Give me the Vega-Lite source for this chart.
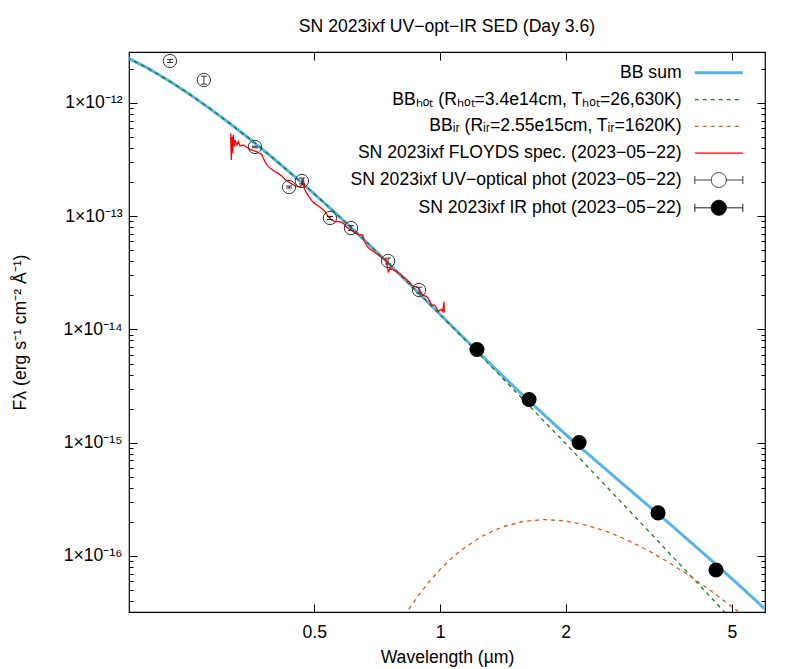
{
  "$schema": "https://vega.github.io/schema/vega-lite/v6.json",
  "width": 636,
  "height": 560,
  "autosize": {"type": "none"},
  "padding": {"left": 129, "top": 52, "right": 32, "bottom": 57},
  "background": "white",
  "title": {"text": "SN 2023ixf UV−opt−IR SED (Day 3.6)", "font": "Liberation Sans", "fontSize": 17.6, "fontWeight": "normal", "color": "#000", "anchor": "middle", "frame": "group", "offset": 2, "baseline": "alphabetic"},
  "config": {
    "view": {"stroke": "#000", "strokeWidth": 1.2},
    "font": "Liberation Sans",
    "axis": {"labelFont": "Liberation Sans", "labelFontSize": 17.6, "labelColor": "#000", "titleFont": "Liberation Sans", "titleFontSize": 17.6, "titleFontWeight": "normal", "titleColor": "#000", "tickColor": "#000", "tickWidth": 1, "grid": false, "domain": false, "labelFlush": false, "labelOverlap": false, "labelBound": false}
  },
  "datasets": {
    "sum": [
      {"wl": 0.17783, "f": 2.531e-12}, {"wl": 0.19953, "f": 2.030e-12}, {"wl": 0.22387, "f": 1.578e-12}, {"wl": 0.25119, "f": 1.197e-12},
      {"wl": 0.28184, "f": 8.873e-13}, {"wl": 0.31623, "f": 6.461e-13}, {"wl": 0.35481, "f": 4.636e-13}, {"wl": 0.39811, "f": 3.269e-13},
      {"wl": 0.44668, "f": 2.276e-13}, {"wl": 0.50119, "f": 1.563e-13}, {"wl": 0.56234, "f": 1.063e-13}, {"wl": 0.63096, "f": 7.157e-14},
      {"wl": 0.70795, "f": 4.774e-14}, {"wl": 0.79433, "f": 3.156e-14}, {"wl": 0.89125, "f": 2.078e-14}, {"wl": 1.0, "f": 1.364e-14},
      {"wl": 1.12202, "f": 8.947e-15}, {"wl": 1.25893, "f": 5.885e-15}, {"wl": 1.41254, "f": 3.890e-15}, {"wl": 1.58489, "f": 2.594e-15},
      {"wl": 1.77828, "f": 1.749e-15}, {"wl": 1.99526, "f": 1.192e-15}, {"wl": 2.23872, "f": 8.207e-16}, {"wl": 2.51189, "f": 5.689e-16},
      {"wl": 2.81838, "f": 3.960e-16}, {"wl": 3.16228, "f": 2.759e-16}, {"wl": 3.54813, "f": 1.916e-16}, {"wl": 3.98107, "f": 1.327e-16},
      {"wl": 4.46684, "f": 9.125e-17}, {"wl": 5.01187, "f": 6.237e-17}, {"wl": 5.62341, "f": 4.236e-17}, {"wl": 6.30957, "f": 2.858e-17}
    ],
    "hot": [
      {"wl": 0.17783, "f": 2.531e-12}, {"wl": 0.19953, "f": 2.030e-12}, {"wl": 0.22387, "f": 1.578e-12}, {"wl": 0.25119, "f": 1.197e-12},
      {"wl": 0.28184, "f": 8.873e-13}, {"wl": 0.31623, "f": 6.461e-13}, {"wl": 0.35481, "f": 4.636e-13}, {"wl": 0.39811, "f": 3.269e-13},
      {"wl": 0.44668, "f": 2.276e-13}, {"wl": 0.50119, "f": 1.563e-13}, {"wl": 0.56234, "f": 1.063e-13}, {"wl": 0.63096, "f": 7.157e-14},
      {"wl": 0.70795, "f": 4.772e-14}, {"wl": 0.79433, "f": 3.154e-14}, {"wl": 0.89125, "f": 2.074e-14}, {"wl": 1.0, "f": 1.356e-14},
      {"wl": 1.12202, "f": 8.835e-15}, {"wl": 1.25893, "f": 5.733e-15}, {"wl": 1.41254, "f": 3.709e-15}, {"wl": 1.58489, "f": 2.392e-15},
      {"wl": 1.77828, "f": 1.539e-15}, {"wl": 1.99526, "f": 9.880e-16}, {"wl": 2.23872, "f": 6.331e-16}, {"wl": 2.51189, "f": 4.049e-16},
      {"wl": 2.81838, "f": 2.586e-16}, {"wl": 3.16228, "f": 1.649e-16}, {"wl": 3.54813, "f": 1.051e-16}, {"wl": 3.98107, "f": 6.684e-17},
      {"wl": 4.46684, "f": 4.250e-17}, {"wl": 5.01187, "f": 2.700e-17}, {"wl": 5.62341, "f": 1.713e-17}
    ],
    "ir": [
      {"wl": 0.70795, "f": 1.095e-17}, {"wl": 0.79433, "f": 2.408e-17}, {"wl": 0.8414, "f": 3.376e-17}, {"wl": 0.89125, "f": 4.568e-17},
      {"wl": 0.94406, "f": 5.983e-17}, {"wl": 1.0, "f": 7.596e-17}, {"wl": 1.05925, "f": 9.361e-17}, {"wl": 1.12202, "f": 1.122e-16},
      {"wl": 1.25893, "f": 1.493e-16}, {"wl": 1.41254, "f": 1.810e-16}, {"wl": 1.58489, "f": 2.020e-16}, {"wl": 1.77828, "f": 2.097e-16},
      {"wl": 1.99526, "f": 2.039e-16}, {"wl": 2.23872, "f": 1.875e-16}, {"wl": 2.51189, "f": 1.640e-16}, {"wl": 2.81838, "f": 1.374e-16},
      {"wl": 3.16228, "f": 1.109e-16}, {"wl": 3.54813, "f": 8.662e-17}, {"wl": 3.98107, "f": 6.578e-17}, {"wl": 4.46684, "f": 4.877e-17},
      {"wl": 5.01187, "f": 3.539e-17}, {"wl": 5.62341, "f": 2.522e-17}, {"wl": 6.30957, "f": 1.771e-17}
    ],
    "spec": [
      {"wl": 0.3153, "f": 5.40e-13}, {"wl": 0.3164, "f": 3.14e-13}, {"wl": 0.3176, "f": 5.04e-13}, {"wl": 0.3188, "f": 3.60e-13},
      {"wl": 0.3199, "f": 5.22e-13}, {"wl": 0.3211, "f": 4.11e-13}, {"wl": 0.3229, "f": 4.71e-13}, {"wl": 0.3260, "f": 4.26e-13},
      {"wl": 0.3289, "f": 4.55e-13}, {"wl": 0.3320, "f": 4.17e-13}, {"wl": 0.3381, "f": 4.26e-13}, {"wl": 0.3445, "f": 4.06e-13},
      {"wl": 0.3508, "f": 3.90e-13}, {"wl": 0.3572, "f": 3.79e-13}, {"wl": 0.3640, "f": 3.72e-13}, {"wl": 0.3692, "f": 3.60e-13},
      {"wl": 0.3741, "f": 3.52e-13}, {"wl": 0.3774, "f": 3.25e-13}, {"wl": 0.3831, "f": 2.93e-13}, {"wl": 0.3880, "f": 2.74e-13},
      {"wl": 0.3953, "f": 2.60e-13}, {"wl": 0.4026, "f": 2.47e-13}, {"wl": 0.4100, "f": 2.39e-13}, {"wl": 0.4178, "f": 2.27e-13},
      {"wl": 0.4254, "f": 2.12e-13}, {"wl": 0.4332, "f": 2.02e-13}, {"wl": 0.4414, "f": 1.93e-13}, {"wl": 0.4495, "f": 1.86e-13},
      {"wl": 0.4578, "f": 1.82e-13}, {"wl": 0.4665, "f": 1.86e-13}, {"wl": 0.4706, "f": 2.16e-13}, {"wl": 0.4732, "f": 1.76e-13},
      {"wl": 0.4795, "f": 1.59e-13}, {"wl": 0.4864, "f": 1.47e-13}, {"wl": 0.4956, "f": 1.34e-13}, {"wl": 0.5066, "f": 1.26e-13},
      {"wl": 0.5180, "f": 1.19e-13}, {"wl": 0.5304, "f": 1.10e-13}, {"wl": 0.5401, "f": 9.91e-14}, {"wl": 0.5503, "f": 9.27e-14},
      {"wl": 0.5604, "f": 8.95e-14}, {"wl": 0.5761, "f": 8.95e-14}, {"wl": 0.5867, "f": 8.66e-14}, {"wl": 0.5978, "f": 7.99e-14},
      {"wl": 0.6111, "f": 7.56e-14}, {"wl": 0.6258, "f": 7.16e-14}, {"wl": 0.6408, "f": 6.83e-14}, {"wl": 0.6529, "f": 6.83e-14},
      {"wl": 0.6576, "f": 6.17e-14}, {"wl": 0.6675, "f": 5.46e-14}, {"wl": 0.6797, "f": 5.11e-14}, {"wl": 0.6949, "f": 4.86e-14},
      {"wl": 0.7116, "f": 4.55e-14}, {"wl": 0.7291, "f": 4.25e-14}, {"wl": 0.7425, "f": 4.11e-14}, {"wl": 0.7520, "f": 3.22e-14},
      {"wl": 0.7591, "f": 3.47e-14}, {"wl": 0.7802, "f": 3.31e-14}, {"wl": 0.8022, "f": 3.09e-14}, {"wl": 0.8245, "f": 2.83e-14},
      {"wl": 0.8477, "f": 2.59e-14}, {"wl": 0.858, "f": 2.42e-14}, {"wl": 0.8711, "f": 2.39e-14}, {"wl": 0.884, "f": 2.36e-14},
      {"wl": 0.8957, "f": 2.20e-14}, {"wl": 0.908, "f": 2.02e-14}, {"wl": 0.9206, "f": 1.98e-14}, {"wl": 0.934, "f": 1.92e-14},
      {"wl": 0.9464, "f": 1.76e-14}, {"wl": 0.955, "f": 1.64e-14}, {"wl": 0.9637, "f": 1.65e-14}, {"wl": 0.973, "f": 1.63e-14},
      {"wl": 0.9820, "f": 1.54e-14}, {"wl": 0.991, "f": 1.44e-14}, {"wl": 1.0, "f": 1.49e-14}, {"wl": 1.008, "f": 1.50e-14},
      {"wl": 1.015, "f": 1.44e-14}, {"wl": 1.0223, "f": 1.76e-14}, {"wl": 1.024, "f": 1.41e-14}
    ],
    "uv": [
      {"wl": 0.2256, "f": 2.35e-12, "lo": 2.28e-12, "hi": 2.42e-12},
      {"wl": 0.272, "f": 1.596e-12, "lo": 1.468e-12, "hi": 1.724e-12},
      {"wl": 0.3605, "f": 4.09e-13, "lo": 4.03e-13, "hi": 4.15e-13},
      {"wl": 0.435, "f": 1.81e-13, "lo": 1.774e-13, "hi": 1.846e-13},
      {"wl": 0.467, "f": 2.05e-13, "lo": 1.927e-13, "hi": 2.173e-13},
      {"wl": 0.545, "f": 9.65e-14, "lo": 9.36e-14, "hi": 9.94e-14},
      {"wl": 0.612, "f": 7.87e-14, "lo": 7.48e-14, "hi": 8.26e-14},
      {"wl": 0.751, "f": 4.03e-14, "lo": 3.79e-14, "hi": 4.27e-14},
      {"wl": 0.891, "f": 2.23e-14, "lo": 2.10e-14, "hi": 2.36e-14}
    ],
    "irp": [
      {"wl": 1.226, "f": 6.66e-15}, {"wl": 1.634, "f": 2.41e-15}, {"wl": 2.153, "f": 1.005e-15},
      {"wl": 3.327, "f": 2.40e-16}, {"wl": 4.58, "f": 7.52e-17}
    ]
  },
  "resolve": {"axis": {"x": "independent", "y": "independent"}},
  "layer": [
    {
      "data": {"name": "sum"},
      "mark": {"type": "line", "strokeWidth": 3, "clip": true},
      "encoding": {
        "x": {"field": "wl", "type": "quantitative", "scale": {"type": "log", "domain": [0.18, 6], "nice": false},
          "axis": {"orient": "bottom", "values": [0.5, 1, 2, 5], "labelExpr": "'' + datum.value", "tickSize": -8, "labelPadding": 19, "title": "Wavelength (µm)", "titleY": 45, "titleBaseline": "middle"}},
        "y": {"field": "f", "type": "quantitative", "scale": {"type": "log", "domain": [3.2e-17, 2.82e-12], "nice": false},
          "axis": {"orient": "left",
            "values": [4e-17,5e-17,6e-17,7e-17,8e-17,9e-17,1e-16,2e-16,3e-16,4e-16,5e-16,6e-16,7e-16,8e-16,9e-16,1e-15,2e-15,3e-15,4e-15,5e-15,6e-15,7e-15,8e-15,9e-15,1e-14,2e-14,3e-14,4e-14,5e-14,6e-14,7e-14,8e-14,9e-14,1e-13,2e-13,3e-13,4e-13,5e-13,6e-13,7e-13,8e-13,9e-13,1e-12,2e-12],
            "labelExpr": "abs(log(datum.value)/LN10 - round(log(datum.value)/LN10)) < 0.01 ? '1×10⁻¹' + ['⁰','¹','²','³','⁴','⁵','⁶','⁷','⁸','⁹'][-round(log(datum.value)/LN10) - 10] : ''",
            "tickSize": {"condition": {"test": "abs(log(datum.value)/LN10 - round(log(datum.value)/LN10)) < 0.01", "value": -8}, "value": -4},
            "labelPadding": 15,
            "title": "Fλ (erg s⁻¹ cm⁻² Å⁻¹)", "titleX": -109, "titleY": 280, "titleAngle": -90, "titleBaseline": "middle", "titleAlign": "center"}},
        "color": {"datum": "sum", "type": "nominal",
          "scale": {"domain": ["sum", "hot", "ir", "spec", "uv", "irp"], "range": ["#56b4e9", "#1e7b1e", "#d9601a", "#ff0000", "#333333", "#000000"]},
          "legend": {"orient": "none", "legendX": 581, "legendY": 12, "direction": "vertical", "title": null,
            "labelExpr": "datum.label == 'sum' ? 'BB sum' : datum.label == 'hot' ? 'BBₕₒₜ (Rₕₒₜ=3.4e14cm, Tₕₒₜ=26,630K)' : datum.label == 'ir' ? 'BBᵢᵣ (Rᵢᵣ=2.55e15cm, Tᵢᵣ=1620K)' : datum.label == 'spec' ? 'SN 2023ixf FLOYDS spec. (2023−05−22)' : datum.label == 'uv' ? 'SN 2023ixf UV−optical phot (2023−05−22)' : 'SN 2023ixf IR phot (2023−05−22)'",
            "labelAlign": "right", "labelOffset": -46, "labelFont": "Liberation Sans", "labelFontSize": 17.6, "labelColor": "#000", "labelLimit": 600,
            "symbolSize": 2304, "rowPadding": 7.8,
            "encode": {"symbols": {"update": {
              "shape": {"signal": "datum.value == 'uv' || datum.value == 'irp' ? 'M-1,0L-0.3125,0M0.3125,0L1,0M-1,-0.17L-1,0.17M1,-0.17L1,0.17M0.3125,0A0.3125,0.3125,0,1,1,-0.3125,0A0.3125,0.3125,0,1,1,0.3125,0Z' : 'stroke'"},
              "stroke": {"signal": "datum.value == 'sum' ? '#56b4e9' : datum.value == 'hot' ? '#1e7b1e' : datum.value == 'ir' ? '#d9601a' : datum.value == 'spec' ? '#ff0000' : datum.value == 'uv' ? '#444444' : '#000000'"},
              "fill": {"signal": "datum.value == 'irp' ? '#000000' : 'transparent'"},
              "fillOpacity": {"signal": "datum.value == 'irp' ? 1 : 0"},
              "strokeWidth": {"signal": "datum.value == 'sum' ? 3 : (datum.value == 'uv' || datum.value == 'irp') ? 1 : 1.3"},
              "strokeDash": {"signal": "datum.value == 'hot' || datum.value == 'ir' ? [4, 4] : [1, 0]"},
              "size": {"value": 2304},
              "opacity": {"value": 1},
              "strokeOpacity": {"value": 1}
            }}}}
        }
      }
    },
    {
      "data": {"name": "hot"},
      "mark": {"type": "line", "strokeWidth": 1.3, "strokeDash": [4, 4], "clip": true},
      "encoding": {
        "x": {"field": "wl", "type": "quantitative", "axis": {"orient": "top", "values": [0.5, 1, 2, 5], "labels": false, "tickSize": -8, "title": null}},
        "y": {"field": "f", "type": "quantitative", "axis": {"orient": "right", "labels": false, "title": null,
            "values": [4e-17,5e-17,6e-17,7e-17,8e-17,9e-17,1e-16,2e-16,3e-16,4e-16,5e-16,6e-16,7e-16,8e-16,9e-16,1e-15,2e-15,3e-15,4e-15,5e-15,6e-15,7e-15,8e-15,9e-15,1e-14,2e-14,3e-14,4e-14,5e-14,6e-14,7e-14,8e-14,9e-14,1e-13,2e-13,3e-13,4e-13,5e-13,6e-13,7e-13,8e-13,9e-13,1e-12,2e-12],
            "tickSize": {"condition": {"test": "abs(log(datum.value)/LN10 - round(log(datum.value)/LN10)) < 0.01", "value": -8}, "value": -4}}},
        "color": {"datum": "hot", "type": "nominal", "legend": null}
      }
    },
    {
      "data": {"name": "ir"},
      "mark": {"type": "line", "strokeWidth": 1.3, "strokeDash": [4, 4], "clip": true},
      "encoding": {
        "x": {"field": "wl", "type": "quantitative", "axis": null},
        "y": {"field": "f", "type": "quantitative", "axis": null},
        "color": {"datum": "ir", "type": "nominal", "legend": null}
      }
    },
    {
      "data": {"name": "spec"},
      "mark": {"type": "line", "strokeWidth": 1.3, "clip": true},
      "encoding": {
        "x": {"field": "wl", "type": "quantitative", "axis": null},
        "y": {"field": "f", "type": "quantitative", "axis": null},
        "color": {"datum": "spec", "type": "nominal", "legend": null}
      }
    },
    {
      "data": {"name": "uv"},
      "mark": {"type": "rule", "color": "#333333", "strokeWidth": 1},
      "encoding": {
        "x": {"field": "wl", "type": "quantitative", "axis": null},
        "y": {"field": "lo", "type": "quantitative", "axis": null},
        "y2": {"field": "hi"}
      }
    },
    {
      "data": {"name": "uv"},
      "mark": {"type": "tick", "orient": "horizontal", "size": 6, "thickness": 1, "color": "#333333", "opacity": 1},
      "encoding": {
        "x": {"field": "wl", "type": "quantitative", "axis": null},
        "y": {"field": "lo", "type": "quantitative", "axis": null}
      }
    },
    {
      "data": {"name": "uv"},
      "mark": {"type": "tick", "orient": "horizontal", "size": 6, "thickness": 1, "color": "#333333", "opacity": 1},
      "encoding": {
        "x": {"field": "wl", "type": "quantitative", "axis": null},
        "y": {"field": "hi", "type": "quantitative", "axis": null}
      }
    },
    {
      "data": {"name": "uv"},
      "mark": {"type": "point", "shape": "circle", "filled": false, "size": 177, "strokeWidth": 1, "opacity": 1},
      "encoding": {
        "x": {"field": "wl", "type": "quantitative", "axis": null},
        "y": {"field": "f", "type": "quantitative", "axis": null},
        "color": {"datum": "uv", "type": "nominal", "legend": null}
      }
    },
    {
      "data": {"name": "irp"},
      "mark": {"type": "point", "shape": "circle", "filled": true, "size": 227, "opacity": 1},
      "encoding": {
        "x": {"field": "wl", "type": "quantitative", "axis": null},
        "y": {"field": "f", "type": "quantitative", "axis": null},
        "color": {"datum": "irp", "type": "nominal", "legend": null}
      }
    }
  ]
}
